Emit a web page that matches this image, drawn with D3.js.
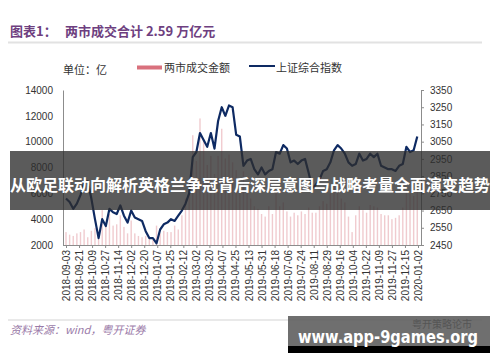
<!DOCTYPE html>
<html>
<head>
<meta charset="utf-8">
<script src="https://cdn.jsdelivr.net/npm/d3@7"></script>
<style>
  body { margin: 0; background: #fff; }
  svg { display: block; }
</style>
</head>
<body>
<svg id="chart" width="500" height="362"></svg>
<script>
var w = 500;
var h = 362;

// sample dates: every 5 days from 2018-09-03
let startDay = new Date(2018, 8, 3);
let endDay = new Date(2020, 0, 2);
let dates = d3.timeDay.range(startDay, new Date(2020, 0, 3), 5);
// axis ticks every 18 days
let tickDates = d3.timeDay.range(startDay, new Date(2020, 0, 3), 18);

// 上证综合指数
let indexValues = [2720, 2700, 2660, 2690, 2740, 2810, 2820, 2720, 2600, 2490,
  2600, 2560, 2660, 2640, 2630, 2680, 2620, 2580, 2650, 2610,
  2600, 2590, 2530, 2490, 2490, 2460, 2540, 2570, 2580, 2600,
  2590, 2620, 2650, 2690, 2750, 2960, 2990, 3100, 3060, 3020,
  3100, 3010, 3170, 3250, 3200, 3260, 3250, 3090, 3080, 2910,
  2940, 2950, 2890, 2860, 2900, 2860, 2880, 2890, 2990, 2980,
  3030, 3010, 2930, 2940, 2920, 2940, 2950, 2870, 2780, 2800,
  2830, 2880, 2890, 2930, 3000, 3030, 3010, 2980, 2930, 2910,
  2920, 2980, 2940, 2950, 2980, 2960, 2980, 2910, 2900, 2890,
  2890, 2880, 2910, 2920, 3020, 2990, 3000, 3080];

// 两市成交金额 (亿)
let volumeValues = [3000, 2800, 2700, 2900, 3000, 3200, 2600, 3100, 3300, 3000,
  4700, 3600, 4400, 3500, 3600, 4300, 3400, 2900, 3900, 2900,
  2700, 2600, 2700, 2600, 2400, 3500, 2900, 3100, 3000, 3000,
  3500, 3200, 4300, 5600, 7000, 10500, 8500, 11800, 10200, 8200,
  8900, 7500, 8900, 11000, 8700, 9000, 8400, 7800, 6500, 7700,
  6200, 5600, 5000, 4800, 4400, 4200, 5000, 4400, 6200, 5000,
  5300, 4600, 4200, 4500, 4300, 4600, 4400, 4900, 4500, 4500,
  5000, 5400, 5200, 6000, 6800, 6200, 5600, 5300, 4200, 3000,
  4300, 5000, 4700, 4500, 5100, 5000, 4900, 4400, 4300, 4300,
  4000, 4100, 4300, 4900, 6200, 6000, 5800, 7000];

let leftTicks = [2000, 4000, 6000, 8000, 10000, 12000, 14000];
let rightTicks = [2450, 2550, 2650, 2750, 2850, 2950, 3050, 3150, 3250, 3350];

var cjk = "'Noto Sans CJK SC', sans-serif";
var svg = d3.select("#chart");

var x = d3.scaleTime().domain([startDay, endDay]).range([66, 418]);
var yL = d3.scaleLinear().domain([2000, 14000]).range([245, 90]);
var yR = d3.scaleLinear().domain([2450, 3350]).range([245, 90]);

// title
svg.append("text").attr("x", 10).attr("y", 36)
  .attr("font-family", cjk).attr("font-size", 13).attr("font-weight", "bold")
  .attr("fill", "#6e3f80").text("图表1：");
svg.append("text").attr("x", 65).attr("y", 36)
  .attr("font-family", cjk).attr("font-size", 13).attr("font-weight", "bold")
  .attr("fill", "#6e3f80").text("两市成交合计 2.59 万亿元");
svg.append("line").attr("x1", 8).attr("x2", 482).attr("y1", 42.5).attr("y2", 42.5)
  .attr("stroke", "#e2e2e2").attr("stroke-width", 2);

// legend
svg.append("text").attr("x", 63).attr("y", 74)
  .attr("font-family", cjk).attr("font-size", 11).attr("fill", "#333").text("单位：亿");
svg.append("rect").attr("x", 137).attr("y", 65.5).attr("width", 25).attr("height", 4)
  .attr("fill", "#d9717d");
svg.append("text").attr("x", 164).attr("y", 72)
  .attr("font-family", cjk).attr("font-size", 11).attr("fill", "#333").text("两市成交金额");
svg.append("line").attr("x1", 249).attr("x2", 275).attr("y1", 66).attr("y2", 66)
  .attr("stroke", "#0e2a63").attr("stroke-width", 2);
svg.append("text").attr("x", 276).attr("y", 72)
  .attr("font-family", cjk).attr("font-size", 11).attr("fill", "#333").text("上证综合指数");

// bars
svg.append("g").selectAll("rect")
  .data(volumeValues)
  .enter()
  .append("rect")
  .attr("x", (d, i) => x(dates[i]) - 0.7)
  .attr("width", 1.4)
  .attr("y", d => yL(d))
  .attr("height", d => yL(2000) - yL(d))
  .attr("fill", "#e3a0a8")
  .attr("opacity", 0.55);

// axes
var axL = svg.append("g").attr("transform", "translate(63,0)")
  .call(d3.axisLeft(yL).tickValues(leftTicks).tickSize(0).tickPadding(10).tickFormat(d3.format("d")));
var axR = svg.append("g").attr("transform", "translate(421,0)")
  .call(d3.axisRight(yR).tickValues(rightTicks).tickSize(3).tickPadding(6).tickFormat(d3.format("d")));
var axB = svg.append("g").attr("transform", "translate(0,245)")
  .call(d3.axisBottom(x).tickValues(tickDates).tickSize(3).tickFormat(d3.timeFormat("%Y-%m-%d")));
axB.select(".domain").attr("d", "M63,0.5H421");
[axL, axR, axB].forEach(a => {
  a.selectAll(".domain").attr("stroke", "#8c8c8c");
  a.selectAll(".tick line").attr("stroke", "#8c8c8c");
  a.selectAll("text").attr("font-family", "'Liberation Sans', Arial, sans-serif")
    .attr("font-size", 10).attr("fill", "#333");
});
axB.selectAll("text")
  .attr("transform", "rotate(-90)")
  .attr("text-anchor", "end")
  .attr("x", -5).attr("y", 0).attr("dy", "0.35em");

// index line
var line = d3.line()
  .x((d, i) => x(dates[i]))
  .y(d => yR(d));
svg.append("path").datum(indexValues)
  .attr("d", line)
  .attr("fill", "none")
  .attr("stroke", "#0e2a63")
  .attr("stroke-width", 2.2)
  .attr("stroke-linejoin", "round");

// source
svg.append("line").attr("x1", 8).attr("x2", 482).attr("y1", 320).attr("y2", 320)
  .attr("stroke", "#e2e2e2").attr("stroke-width", 1.5);
svg.append("text").attr("x", 10).attr("y", 334)
  .attr("font-family", cjk).attr("font-size", 11).attr("font-style", "italic")
  .attr("fill", "#9a7aa8").text("资料来源：wind，粤开证券");

// overlay banner
svg.append("rect").attr("x", 10).attr("y", 151).attr("width", 480).attr("height", 59)
  .attr("fill", "rgba(45,45,45,0.78)");
svg.append("text").attr("x", 250).attr("y", 191).attr("text-anchor", "middle")
  .attr("font-family", cjk).attr("font-size", 16).attr("font-weight", "bold")
  .attr("fill", "#fff")
  .attr("textLength", 480).attr("lengthAdjust", "spacingAndGlyphs")
  .text("从欧足联动向解析英格兰争冠背后深层意图与战略考量全面演变趋势");

// watermark box
svg.append("rect").attr("x", 288).attr("y", 316).attr("width", 202).attr("height", 30)
  .attr("fill", "rgba(95,95,95,0.9)");
svg.append("text").attr("x", 472).attr("y", 328).attr("text-anchor", "end")
  .attr("font-family", cjk).attr("font-size", 10).attr("fill", "#555").text("粤开策略论市");
svg.append("rect").attr("x", 288).attr("y", 346).attr("width", 202).attr("height", 7)
  .attr("fill", "#000");
svg.append("text").attr("x", 298).attr("y", 343)
  .attr("font-family", "'DejaVu Sans', sans-serif").attr("font-size", 18).attr("font-weight", "bold")
  .attr("fill", "#fff")
  .attr("textLength", 180).attr("lengthAdjust", "spacingAndGlyphs")
  .text("www.app-9games.org");
</script>
</body>
</html>
